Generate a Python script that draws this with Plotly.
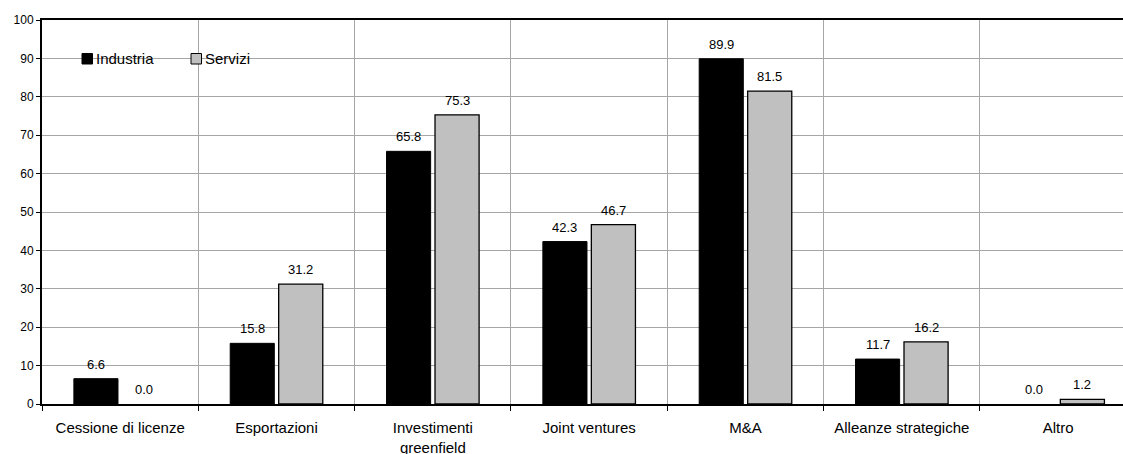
import plotly.graph_objects as go

# Data
categories = ["Cessione di licenze", "Esportazioni", "Investimenti<br>greenfield",
              "Joint ventures", "M&A", "Alleanze strategiche", "Altro"]
industria = [6.6, 15.8, 65.8, 42.3, 89.9, 11.7, 0.0]
servizi = [0.0, 31.2, 75.3, 46.7, 81.5, 16.2, 1.2]
y_ticks = [0, 10, 20, 30, 40, 50, 60, 70, 80, 90, 100]

FONT = "Arial, Liberation Sans, sans-serif"
GRID = "#a6a6a6"
BLACK_FILL = "#000000"
GREY_FILL = "#c0c0c0"
BARGAP = 0.38
GROUPGAP = 0.09
OFFSET = (1 - BARGAP) / 4  # centre of each bar relative to its category

W, H = 1123, 454
ML, MT, MB = 42, 20, 50
PW, PH = W - ML, H - MT - MB
CAT_PX = 156.33
x_pos = list(range(len(categories)))


def fx(px):
    """pixel column -> x-domain fraction"""
    return (px - ML) / PW


def fy(py):
    """pixel row -> y-domain fraction"""
    return (H - MB - py) / PH


def outline(values, width):
    """no outline on empty bars"""
    return [width if v > 0 else 0 for v in values]


fig = go.Figure()
fig.add_trace(go.Bar(name="Industria", x=x_pos, y=industria, showlegend=False,
                     marker=dict(color=BLACK_FILL,
                                 line=dict(color="#000000", width=outline(industria, 1)))))
fig.add_trace(go.Bar(name="Servizi", x=x_pos, y=servizi, showlegend=False,
                     marker=dict(color=GREY_FILL,
                                 line=dict(color="#000000", width=outline(servizi, 1.3)))))

# value labels above each bar
for series, sign in ((industria, -1), (servizi, 1)):
    for i, v in enumerate(series):
        fig.add_annotation(x=i + sign * OFFSET, y=v, text=f"{v:.1f}",
                           showarrow=False, yanchor="bottom", yshift=5,
                           font=dict(family=FONT, size=13, color="#000"))

# legend: white panel, swatches and names
fig.add_shape(type="rect", xref="x domain", yref="y domain",
              x0=fx(62), x1=fx(268), y0=fy(86), y1=fy(32),
              fillcolor="white", line=dict(width=0), layer="below")
legend_items = [("Industria", BLACK_FILL, 82), ("Servizi", GREY_FILL, 191)]
for name, colour, left in legend_items:
    fig.add_shape(type="rect", xref="x domain", yref="y domain",
                  x0=fx(left), x1=fx(left + 10.5), y0=fy(64), y1=fy(53.5),
                  fillcolor=colour, line=dict(color="#000", width=1), layer="above")
    fig.add_annotation(xref="x domain", yref="y domain", x=fx(left + 12.5), y=fy(58.8),
                       xanchor="left", yanchor="middle", showarrow=False, text=name,
                       borderpad=0, font=dict(family=FONT, size=15, color="#000"))

fig.update_layout(
    width=W, height=H,
    margin=dict(l=ML, r=0, t=MT, b=MB, pad=0, autoexpand=False),
    paper_bgcolor="white", plot_bgcolor="white",
    barmode="group", bargap=BARGAP, bargroupgap=GROUPGAP,
    font=dict(family=FONT, color="#000"),
    showlegend=False,
    xaxis=dict(range=[-0.5, -0.5 + PW / CAT_PX], automargin=False,
               tickmode="array", tickvals=x_pos, ticktext=categories,
               ticks="", showgrid=False, zeroline=False,
               showline=True, linecolor="#000", linewidth=2, mirror=True,
               tickfont=dict(family=FONT, size=15), ticklabelstandoff=9,
               minor=dict(tickmode="array", tickvals=[k - 0.5 for k in range(8)],
                          ticks="outside", ticklen=5, tickcolor="#000",
                          showgrid=True, gridcolor=GRID, gridwidth=1)),
    yaxis=dict(range=[0, 100], tickmode="array", tickvals=y_ticks, automargin=False,
               ticks="outside", ticklen=4, tickcolor="#000",
               showgrid=True, gridcolor=GRID, gridwidth=1, zeroline=False,
               showline=True, linecolor="#000", linewidth=2,
               tickfont=dict(family=FONT, size=12)),
)

fig.write_html("out.html")
